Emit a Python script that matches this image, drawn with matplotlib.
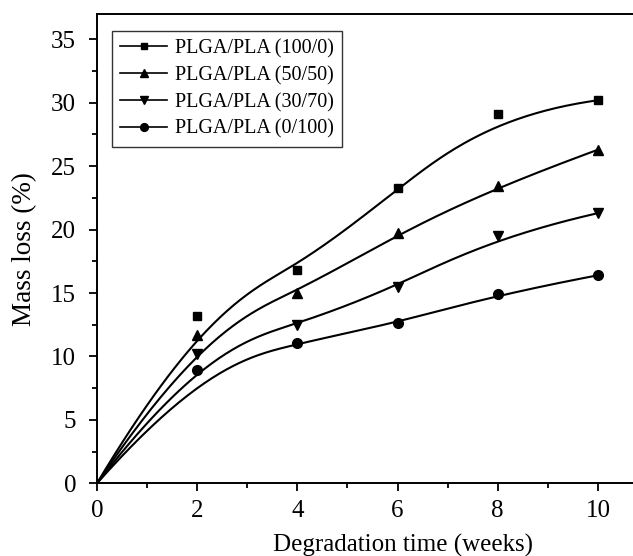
import numpy as np
import matplotlib
matplotlib.use('Agg')
import matplotlib.pyplot as plt
from matplotlib.ticker import MultipleLocator

plt.rcParams['font.family'] = ['Liberation Serif', 'DejaVu Serif']

weeks = [0, 2, 4, 6, 8, 10]
loss_100_0 = [0, 13.2, 16.8, 23.3, 29.1, 30.2]
loss_50_50 = [0, 11.7, 15.0, 19.7, 23.4, 26.3]
loss_30_70 = [0, 10.2, 12.5, 15.5, 19.5, 21.3]
loss_0_100 = [0, 8.9, 11.1, 12.6, 14.9, 16.4]

labels = ['PLGA/PLA (100/0)', 'PLGA/PLA (50/50)', 'PLGA/PLA (30/70)', 'PLGA/PLA (0/100)']
markers = ['s', '^', 'v', 'o']
msizes = [6, 7.5, 7.5, 7]


def bspline(px, py, npts=300, k=3):
    # clamped uniform B-spline using the data as control points
    n = len(px)
    inner = np.linspace(0, 1, n - k + 1)
    knots = np.concatenate([[0] * k, inner, [1] * k])
    t = np.linspace(0, 1, npts)
    t[-1] = 1 - 1e-9
    N = np.zeros((npts, len(knots) - 1))
    for i in range(len(knots) - 1):
        N[:, i] = (t >= knots[i]) & (t < knots[i + 1])
    for d in range(1, k + 1):
        Nn = np.zeros((npts, len(knots) - 1 - d))
        for i in range(len(knots) - 1 - d):
            a = knots[i + d] - knots[i]
            b = knots[i + d + 1] - knots[i + 1]
            left = (t - knots[i]) / a * N[:, i] if a > 0 else 0
            right = (knots[i + d + 1] - t) / b * N[:, i + 1] if b > 0 else 0
            Nn[:, i] = left + right
        N = Nn
    return N @ np.asarray(px, float), N @ np.asarray(py, float)


fig = plt.figure(figsize=(6.33, 5.56), dpi=100)
ax = fig.add_axes([97 / 633, 72.7 / 556, 536 / 633, 469.3 / 556])

series = [loss_100_0, loss_50_50, loss_30_70, loss_0_100]
for ys, lab, m, ms in zip(series, labels, markers, msizes):
    cx, cy = bspline(weeks, ys)
    ax.plot(cx, cy, color='black', lw=1.5)
    ax.plot(weeks[1:], ys[1:], ls='none', marker=m, ms=ms, color='black')
    ax.plot([], [], color='black', lw=1.2, marker=m, ms=ms * 0.8, label=lab)

ax.set_xlim(0, 10.7)
ax.set_ylim(0, 37)
ax.xaxis.set_major_locator(MultipleLocator(2))
ax.xaxis.set_minor_locator(MultipleLocator(1))
ax.yaxis.set_major_locator(MultipleLocator(5))
ax.yaxis.set_minor_locator(MultipleLocator(2.5))
ax.tick_params(which='major', direction='out', length=6, width=1.3, labelsize=18)
ax.tick_params(axis='y', which='major', pad=9)
ax.tick_params(axis='x', which='major', pad=6)
ax.tick_params(which='minor', direction='out', length=3.5, width=1.3)
ax.tick_params(top=False, right=False)
for s in ['left', 'bottom', 'top']:
    ax.spines[s].set_linewidth(1.4)
ax.spines['right'].set_visible(False)

ax.set_xlabel('Degradation time (weeks)', fontsize=18)
ax.xaxis.set_label_coords(0.571, -0.108)
ax.set_ylabel('Mass loss (%)', fontsize=19.5)
ax.yaxis.set_label_coords(-0.112, 0.5)

leg = ax.legend(loc='upper left', bbox_to_anchor=(0.028, 0.964), borderaxespad=0,
                fontsize=14.5, frameon=True, fancybox=False, edgecolor='black',
                handlelength=2.35, handletextpad=0.4, labelspacing=0.38,
                borderpad=0.4)
leg.get_frame().set_linewidth(1.0)

fig.savefig('out.png', dpi=100)
